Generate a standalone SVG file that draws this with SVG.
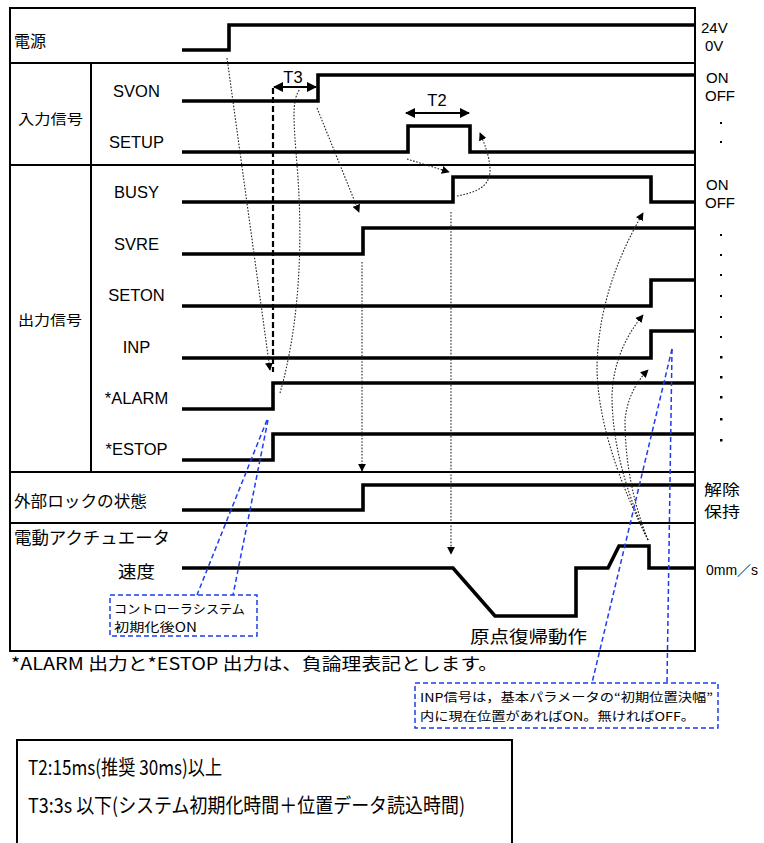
<svg xmlns="http://www.w3.org/2000/svg" width="764" height="843" viewBox="0 0 764 843">
<defs>
<style>
.frame{fill:none;stroke:#000;stroke-width:2}
.div{stroke:#000;stroke-width:2}
.sig{fill:none;stroke:#000;stroke-width:3.6;stroke-linejoin:miter}
.dot{fill:none;stroke:#222;stroke-width:1.1;stroke-dasharray:1.6 1.6}
.dash{fill:none;stroke:#000;stroke-width:2.2;stroke-dasharray:6 3}
.blue{fill:none;stroke:#1f3cf0;stroke-width:1.5;stroke-dasharray:5 3}
.dim{fill:none;stroke:#000;stroke-width:2}
.lat{font-family:"Liberation Sans",Arial,sans-serif;font-size:16.5px;fill:#000}
.rt{font-family:"Liberation Sans",Arial,sans-serif;font-size:15px;fill:#000}
.jp{font-family:"Noto Sans CJK JP","Liberation Sans",sans-serif;fill:#000}
</style>
<marker id="ah" viewBox="0 0 10 10" refX="9" refY="5" markerWidth="8" markerHeight="8" markerUnits="userSpaceOnUse" orient="auto">
<path d="M0,0 L10,5 L0,10 z" fill="#000"/>
</marker>
<marker id="dh" viewBox="0 0 10 10" refX="9" refY="5" markerWidth="11" markerHeight="10" markerUnits="userSpaceOnUse" orient="auto-start-reverse">
<path d="M0,0 L10,5 L0,10 z" fill="#000"/>
</marker>
</defs>
<rect width="764" height="843" fill="#fff"/>

<g id="frame">
<rect class="frame" x="10" y="8" width="685" height="643"/>
<line class="div" x1="10" y1="63" x2="695" y2="63"/>
<line class="div" x1="10" y1="165" x2="695" y2="165"/>
<line class="div" x1="10" y1="472" x2="695" y2="472"/>
<line class="div" x1="10" y1="523" x2="695" y2="523"/>
<line class="div" x1="91" y1="63" x2="91" y2="472"/>
</g>

<g id="row-labels">
<text class="jp" x="14" y="47" font-size="16">電源</text>
<text class="jp" x="18" y="124" font-size="14" textLength="65" lengthAdjust="spacingAndGlyphs">入力信号</text>
<text class="jp" x="18" y="325" font-size="14" textLength="64" lengthAdjust="spacingAndGlyphs">出力信号</text>
<text class="jp" x="14" y="507" font-size="16" textLength="133" lengthAdjust="spacingAndGlyphs">外部ロックの状態</text>
<text class="jp" x="14" y="544" font-size="17" textLength="156" lengthAdjust="spacingAndGlyphs">電動アクチュエータ</text>
<text class="jp" x="118" y="578" font-size="17" textLength="37" lengthAdjust="spacingAndGlyphs">速度</text>
</g>

<g id="signal-labels" text-anchor="middle">
<text class="lat" x="136.5" y="97">SVON</text>
<text class="lat" x="136.5" y="148">SETUP</text>
<text class="lat" x="136.5" y="198">BUSY</text>
<text class="lat" x="136.5" y="250">SVRE</text>
<text class="lat" x="136.5" y="301">SETON</text>
<text class="lat" x="136.5" y="353">INP</text>
<text class="lat" x="136.5" y="404">*ALARM</text>
<text class="lat" x="136.5" y="455">*ESTOP</text>
</g>

<g id="signals">
<path id="sig-power" class="sig" d="M182,50 H229 V25 H695"/>
<path id="sig-svon" class="sig" d="M182,101 H318 V75 H695"/>
<path id="sig-setup" class="sig" d="M182,152 H408 V126 H470 V152 H695"/>
<path id="sig-busy" class="sig" d="M182,202 H453 V177 H651 V202 H695"/>
<path id="sig-svre" class="sig" d="M182,254 H363 V228 H695"/>
<path id="sig-seton" class="sig" d="M182,306 H651 V280 H695"/>
<path id="sig-inp" class="sig" d="M182,358 H651 V331 H695"/>
<path id="sig-alarm" class="sig" d="M182,409 H273 V383 H695"/>
<path id="sig-estop" class="sig" d="M182,460 H273 V434 H695"/>
<path id="sig-lock" class="sig" d="M182,510 H363 V485 H695"/>
<path id="sig-speed" class="sig" d="M182,568 H453 L495,616 H576 V568 H608 L619,546 H649 V568 H695"/>
</g>

<g id="right-labels">
<text class="rt" x="701" y="33">24V</text>
<text class="rt" x="705" y="51">0V</text>
<text class="rt" x="706" y="83">ON</text>
<text class="rt" x="705" y="101">OFF</text>
<text class="rt" x="706" y="190">ON</text>
<text class="rt" x="705" y="208">OFF</text>
<text class="jp" x="704" y="495" font-size="15" textLength="36" lengthAdjust="spacingAndGlyphs">解除</text>
<text class="jp" x="704" y="517" font-size="15" textLength="36" lengthAdjust="spacingAndGlyphs">保持</text>
<text x="706" y="575" font-family="Liberation Sans,Noto Sans CJK JP,sans-serif" font-size="14">0mm／s</text>
<g fill="#000">
<rect x="720" y="122" width="2" height="2"/>
<rect x="720" y="141" width="2" height="2"/>
<rect x="720" y="234" width="2" height="2"/>
<rect x="720" y="254" width="2" height="2"/>
<rect x="720" y="274" width="2" height="2"/>
<rect x="720" y="295" width="2" height="2"/>
<rect x="720" y="316" width="2" height="2"/>
<rect x="720" y="336" width="2" height="2"/>
<rect x="720" y="356" width="2.5" height="2.5"/>
<rect x="720" y="376" width="2.5" height="2.5"/>
<rect x="720" y="396" width="2.5" height="2.5"/>
<rect x="720" y="418" width="2.5" height="2.5"/>
<rect x="720" y="439" width="2.5" height="2.5"/>
</g>
</g>

<g id="timing">
<line class="dim" x1="274" y1="87" x2="316" y2="87" marker-start="url(#dh)" marker-end="url(#dh)"/>
<text class="lat" x="293" y="83" font-size="18" text-anchor="middle">T3</text>
<line class="dim" x1="406" y1="113" x2="469" y2="113" marker-start="url(#dh)" marker-end="url(#dh)"/>
<text class="lat" x="437" y="106" font-size="18" text-anchor="middle">T2</text>
</g>

<g id="connectors">
<line class="dash" x1="273" y1="88" x2="273" y2="372"/>
<path class="dot" d="M227,58 L270,370" marker-end="url(#ah)"/>
<path class="dot" d="M280,393 C298,330 304,250 297,165 C294,125 291,100 300,89"/>
<path class="dot" d="M317,108 L359,212" marker-end="url(#ah)"/>
<path class="dot" d="M407,159 L449,172" marker-end="url(#ah)"/>
<path class="dot" d="M457,196 C478,192 491,186 490,168 C489,155 485,145 480,133" marker-end="url(#ah)"/>
<path class="dot" d="M362,262 L362,471" marker-end="url(#ah)"/>
<path class="dot" d="M451,212 L451,554" marker-end="url(#ah)"/>
<path class="dot" d="M648,540 Q598,440 597,368 Q598,290 643,213" marker-end="url(#ah)"/>
<path class="dot" d="M648,540 Q612,462 612,395 Q614,350 643,315" marker-end="url(#ah)"/>
<path class="dot" d="M648,540 Q625,482 625,420 Q628,390 648,370" marker-end="url(#ah)"/>
</g>

<g id="note-controller">
<line class="blue" x1="267" y1="420" x2="197" y2="595"/>
<line class="blue" x1="268" y1="420" x2="233" y2="595"/>
<rect class="blue" x="110" y="595" width="147" height="41"/>
<text class="jp" x="114" y="614" font-size="12.5" textLength="131" lengthAdjust="spacingAndGlyphs">コントローラシステム</text>
<text class="jp" x="114" y="632" font-size="12.5" textLength="83" lengthAdjust="spacingAndGlyphs">初期化後ON</text>
</g>

<g id="note-homing">
<text class="jp" x="470" y="643" font-size="17" textLength="117" lengthAdjust="spacingAndGlyphs">原点復帰動作</text>
</g>

<g id="note-inp">
<line class="blue" x1="672" y1="349" x2="592" y2="683"/>
<line class="blue" x1="672" y1="349" x2="667" y2="683"/>
<rect class="blue" x="415" y="683" width="303" height="45"/>
<text class="jp" x="420" y="702" font-size="12" textLength="293" lengthAdjust="spacingAndGlyphs">INP信号は，基本パラメータの“初期位置決幅”</text>
<text class="jp" x="420" y="721" font-size="12" textLength="275" lengthAdjust="spacingAndGlyphs">内に現在位置があればON。無ければOFF。</text>
</g>

<g id="footnote">
<text class="jp" x="11" y="670" font-size="17" textLength="487" lengthAdjust="spacingAndGlyphs">*ALARM 出力と*ESTOP 出力は、負論理表記とします。</text>
</g>

<g id="timing-box">
<path class="frame" d="M17,843 V740 H512 V843"/>
<text class="jp" x="28" y="775" font-size="20.5" textLength="194" lengthAdjust="spacingAndGlyphs">T2:15ms(推奨 30ms)以上</text>
<text class="jp" x="28" y="813" font-size="20.5" textLength="437" lengthAdjust="spacingAndGlyphs">T3:3s 以下(システム初期化時間＋位置データ読込時間)</text>
</g>
</svg>
